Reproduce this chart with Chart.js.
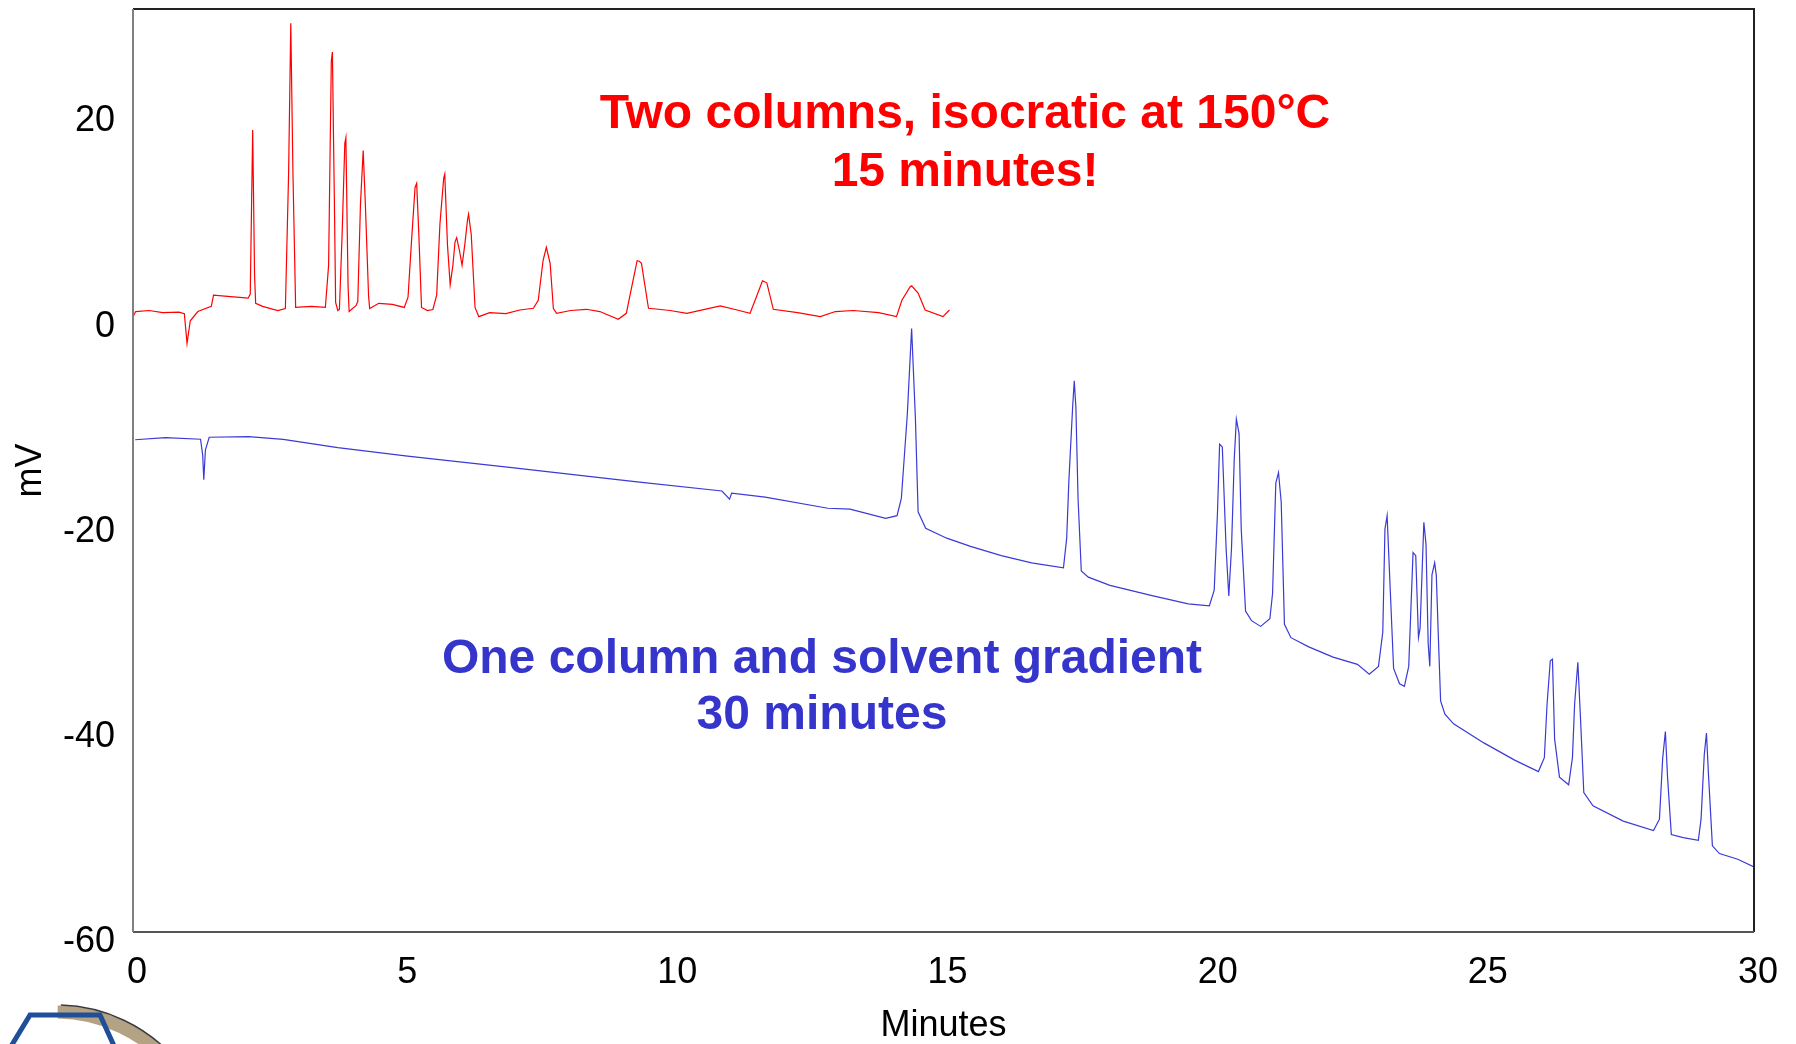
<!DOCTYPE html>
<html>
<head>
<meta charset="utf-8">
<title>Cromatograma</title>
<script src="https://cdn.jsdelivr.net/npm/chart.js"></script>
<style>
  html, body { margin: 0; padding: 0; background: #fff; }
  #caixa { width: 1796px; height: 1044px; position: relative; }
</style>
</head>
<body>
<div id="caixa"><canvas id="myChart"></canvas></div>
<script>
// Dados: tempo (minutos) e sinal (mV)
// traco vermelho - duas colunas, isocratico
const tempoVermelho = [
    0.00, 0.05, 0.30, 0.55, 0.85, 0.95, 1.00, 1.06, 1.20, 1.45, 1.49, 1.70, 2.13, 2.17, 2.215, 2.25, 2.27,
    2.40, 2.68, 2.82, 2.88, 2.92, 2.96, 3.01, 3.30, 3.56, 3.62, 3.67, 3.69, 3.73, 3.75, 3.79, 3.82, 3.87,
    3.92, 3.94, 3.98, 4.00, 4.13, 4.16, 4.21, 4.26, 4.30, 4.36, 4.38, 4.55, 4.80, 5.02, 5.09, 5.15, 5.22,
    5.25, 5.29, 5.34, 5.45, 5.55, 5.62, 5.68, 5.75, 5.77, 5.82, 5.87, 5.92, 5.96, 5.99, 6.04, 6.09, 6.14,
    6.19, 6.21, 6.26, 6.33, 6.40, 6.60, 6.90, 7.16, 7.41, 7.50, 7.59, 7.65, 7.72, 7.78, 7.84, 8.10, 8.39,
    8.64, 8.98, 9.13, 9.23, 9.33, 9.37, 9.41, 9.54, 9.94, 10.25, 10.87, 11.18, 11.42, 11.54, 11.65, 11.73,
    11.85, 12.30, 12.72, 13.00, 13.33, 13.80, 14.13, 14.23, 14.38, 14.41, 14.53, 14.66, 14.99, 15.11
];
const mvVermelho = [
    0.0, 0.5, 0.6, 0.4, 0.45, 0.3, -2.6, -0.4, 0.5, 1.0, 2.1, 2.0, 1.8, 2.2, 18.2, 4.0, 1.3,
    1.0, 0.6, 0.8, 14.0, 28.6, 14.0, 0.9, 1.0, 0.9, 5.0, 24.9, 25.8, 10.0, 1.4, 0.6, 0.7, 8.0,
    16.9, 17.45, 3.0, 0.5, 1.1, 1.5, 11.0, 16.2, 11.0, 2.0, 0.8, 1.3, 1.2, 0.9, 1.9, 7.0, 12.6,
    13.0, 8.0, 0.9, 0.6, 0.7, 2.1, 9.0, 13.5, 13.9, 7.0, 3.1, 5.0, 7.3, 7.7, 6.5, 5.0, 7.0,
    9.4, 10.0, 8.0, 0.9, 0.0, 0.4, 0.3, 0.65, 0.82, 1.6, 5.5, 6.76, 5.2, 0.8, 0.33, 0.6, 0.72,
    0.5, -0.26, 0.33, 2.9, 5.46, 5.4, 5.2, 0.82, 0.6, 0.33, 1.05, 0.65, 0.33, 1.96, 3.5, 3.3,
    0.72, 0.4, 0.0, 0.5, 0.6, 0.4, 0.0, 1.6, 2.9, 3.0, 2.3, 0.65, 0.0, 0.65
];

// traco azul - uma coluna com gradiente de solvente
const tempoAzul = [
    0.04, 0.60, 1.25, 1.29, 1.31, 1.34, 1.41, 2.14, 2.78, 3.79, 5.08, 6.97, 9.33, 10.90, 11.04, 11.08,
    11.70, 12.86, 13.27, 13.93, 14.14, 14.22, 14.33, 14.41, 14.48, 14.53, 14.67, 15.06, 15.50, 16.07,
    16.63, 17.22, 17.28, 17.32, 17.39, 17.42, 17.45, 17.49, 17.55, 17.68, 18.08, 18.86, 19.53, 19.92,
    20.01, 20.07, 20.11, 20.16, 20.23, 20.28, 20.33, 20.38, 20.42, 20.47, 20.51, 20.59, 20.70, 20.87,
    21.04, 21.09, 21.15, 21.20, 21.25, 21.31, 21.43, 21.76, 22.21, 22.66, 22.88, 23.05, 23.13, 23.17,
    23.21, 23.25, 23.33, 23.44, 23.53, 23.61, 23.69, 23.74, 23.79, 23.82, 23.89, 23.93, 23.97, 24.00,
    24.04, 24.09, 24.12, 24.17, 24.20, 24.28, 24.44, 25.00, 25.57, 26.01, 26.12, 26.17, 26.23, 26.27,
    26.31, 26.40, 26.57, 26.64, 26.68, 26.74, 26.79, 26.85, 27.02, 27.58, 28.14, 28.25, 28.31, 28.36,
    28.40, 28.47, 28.69, 28.97, 29.02, 29.08, 29.12, 29.16, 29.23, 29.36, 29.70, 30.00
];
const mvAzul = [
    -12.0, -11.8, -11.95, -13.5, -15.9, -13.0, -11.76, -11.7, -11.96, -12.77, -13.6, -14.7, -16.1, -17.0, -17.8, -17.2,
    -17.6, -18.68, -18.77, -19.66, -19.4, -17.73, -9.54, -1.16, -9.9, -19.03, -20.63, -21.6, -22.4, -23.3,
    -24.0, -24.5, -21.6, -16.06, -8.8, -6.26, -8.8, -17.7, -24.8, -25.4, -26.2, -27.2, -28.0, -28.2,
    -26.67, -19.2, -12.44, -12.7, -22.57, -27.23, -22.6, -14.0, -9.99, -11.4, -20.7, -28.7, -29.64, -30.2,
    -29.45, -27.0, -16.23, -15.2, -18.1, -30.0, -31.3, -32.2, -33.2, -33.9, -34.86, -34.1, -30.76, -20.7,
    -19.4, -24.4, -34.3, -35.79, -36.05, -34.1, -23.0, -23.3, -31.3, -30.4, -20.04, -22.2, -31.9, -34.1,
    -25.18, -24.0, -25.2, -33.0, -37.46, -38.77, -39.7, -41.56, -43.24, -44.36, -43.0, -37.8, -33.55, -33.4,
    -41.2, -44.9, -45.64, -43.0, -37.8, -33.7, -39.3, -46.4, -47.7, -49.19, -50.1, -49.0, -43.05, -40.45,
    -44.9, -50.5, -50.8, -51.06, -49.0, -42.7, -40.6, -44.9, -51.6, -52.35, -52.9, -53.66
];

const ticksX = [0, 5, 10, 15, 20, 25, 30];
const ticksY = [-60, -40, -20, 0, 20];
const textoVermelho = ['Two columns, isocratic at 150°C', '15 minutes!'];
const textoAzul = ['One column and solvent gradient', '30 minutes'];

const fonte = '"Liberation Sans", Arial, Helvetica, sans-serif';

function pontos(tempos, valores) {
    const lista = [];
    for (let i = 0; i < tempos.length; i++) {
        lista.push({ x: tempos[i], y: valores[i] });
    }
    return lista;
}

// moldura, textos e o pedaco do logotipo no canto
const extras = {
    id: 'extras',
    afterDatasetsDraw(chart) {
        const c = chart.ctx;
        const a = chart.chartArea;
        c.save();

        // moldura do grafico
        c.lineWidth = 2;
        c.strokeStyle = '#222';
        c.beginPath();
        c.moveTo(a.left, a.top);
        c.lineTo(a.right, a.top);
        c.lineTo(a.right, a.bottom);
        c.stroke();
        c.strokeStyle = '#555';
        c.beginPath();
        c.moveTo(a.right, a.bottom);
        c.lineTo(a.left, a.bottom);
        c.stroke();
        c.strokeStyle = '#808080';
        c.beginPath();
        c.moveTo(a.left, a.bottom);
        c.lineTo(a.left, a.top);
        c.stroke();

        // textos
        c.font = 'bold 48px ' + fonte;
        c.textAlign = 'center';
        c.textBaseline = 'alphabetic';
        c.fillStyle = '#ff0000';
        c.fillText(textoVermelho[0], 965, 128);
        c.fillText(textoVermelho[1], 965, 186);
        c.fillStyle = '#3535cc';
        c.fillText(textoAzul[0], 822, 673);
        c.fillText(textoAzul[1], 822, 729);

        // logotipo (cortado na borda de baixo)
        c.lineWidth = 13;
        c.strokeStyle = '#b3a283';
        c.beginPath();
        c.arc(56, 1164, 152, -1.56, -0.7);
        c.stroke();
        c.lineWidth = 1.5;
        c.strokeStyle = '#3a3a3a';
        c.beginPath();
        c.arc(56, 1164, 159, -1.54, -0.72);
        c.stroke();
        c.lineWidth = 5;
        c.strokeStyle = '#1f4f9a';
        c.beginPath();
        c.moveTo(10, 1048);
        c.lineTo(30, 1015);
        c.lineTo(100, 1015);
        c.lineTo(115, 1048);
        c.stroke();

        c.restore();
    }
};

const dados = {
    datasets: [{
        label: 'Gradiente',
        data: pontos(tempoAzul, mvAzul),
        borderColor: '#3a3ad6',
        borderWidth: 1.2,
        pointRadius: 0,
        tension: 0
    }, {
        label: 'Isocratico',
        data: pontos(tempoVermelho, mvVermelho),
        borderColor: '#ff0000',
        borderWidth: 1.2,
        pointRadius: 0,
        tension: 0
    }]
};

const config = {
    type: 'line',
    data: dados,
    options: {
        responsive: true,
        maintainAspectRatio: false,
        animation: false,
        layout: { padding: { left: 0, top: 9, right: 42, bottom: 0 } },
        plugins: {
            legend: { display: false },
            tooltip: { enabled: false }
        },
        scales: {
            x: {
                type: 'linear',
                min: 0,
                max: 30,
                afterBuildTicks: function (scale) {
                    scale.ticks = ticksX.map(function (v) { return { value: v }; });
                },
                afterFit: function (scale) {
                    scale.height = 112;
                    scale.paddingLeft = 0;
                    scale.paddingRight = 0;
                },
                grid: { display: false, drawTicks: false },
                border: { display: false },
                ticks: {
                    color: '#000',
                    font: { family: fonte, size: 36 },
                    padding: 19,
                    labelOffset: 4,
                    maxRotation: 0
                },
                title: {
                    display: true,
                    text: 'Minutes',
                    color: '#000',
                    font: { family: fonte, size: 36 },
                    padding: { top: 0, bottom: -4 }
                }
            },
            y: {
                min: -60,
                max: 30,
                afterBuildTicks: function (scale) {
                    scale.ticks = ticksY.map(function (v) { return { value: v }; });
                },
                afterFit: function (scale) {
                    scale.width = 133;
                    scale.paddingTop = 0;
                    scale.paddingBottom = 0;
                },
                grid: { display: false, drawTicks: false },
                border: { display: false },
                ticks: {
                    color: '#000',
                    font: { family: fonte, size: 36 },
                    padding: 18,
                    labelOffset: 10
                },
                title: {
                    display: true,
                    text: 'mV',
                    color: '#000',
                    font: { family: fonte, size: 36 },
                    padding: { top: 9, bottom: 0 }
                }
            }
        }
    },
    plugins: [extras]
};

const ctx = document.getElementById('myChart');
const myChart = new Chart(ctx, config);
</script>
</body>
</html>
